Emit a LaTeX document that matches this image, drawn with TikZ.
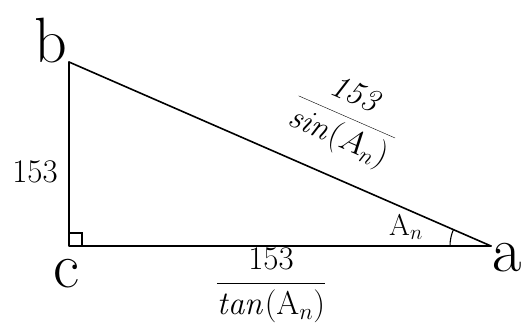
\RequirePackage{fix-cm}
\documentclass[tikz,border=0pt]{standalone}
\tikzset{
  vertexlabel/.style={font=\fontsize{64}{64}\selectfont, inner sep=0pt, anchor=base},
  sidelabel/.style={font=\fontsize{33}{33}\selectfont, inner sep=0pt},
  edge/.style={line width=1.6pt, line cap=round, line join=round},
}
\begin{document}
\begin{tikzpicture}[x=1pt,y=-1pt]
\useasboundingbox (0,0) rectangle (523,322);
\coordinate (b) at (69,62);
\coordinate (c) at (69,246);
\coordinate (a) at (491,246);
\draw[edge] (b) -- (c) -- (a);
\draw[edge] (b) -- (a);
% right angle mark
\draw[line width=1.1pt] (c) ++(0,-13) -- ++(13,0) -- ++(0,13);
% angle arc at a
\draw[line width=1.1pt] (a) ++(180:41) arc[start angle=180, end angle=203.6, radius=41];
% vertex labels
\node[vertexlabel] (lb) at (51,62) {b};
\node[vertexlabel] (lc) at (66,287) {c};
\node[vertexlabel] (la) at (507,271) {a};
% side labels
\node[sidelabel] (s1) at (35,172) {153};
\node[sidelabel, anchor=base, rotate=-23.6] (s2) at (343.6,124.5)
  {$\displaystyle\frac{\mathit{153}}{\mathit{sin}(A_n)}$};
\node[sidelabel, anchor=base] (s3) at (271,291.5)
  {$\displaystyle\frac{153}{\mathit{tan}(\mathrm{A}_n)}$};
\node[font=\fontsize{30}{30}\selectfont, inner sep=0pt] (ang) at (406,227) {$\mathrm{A}_n$};
\end{tikzpicture}
\end{document}
